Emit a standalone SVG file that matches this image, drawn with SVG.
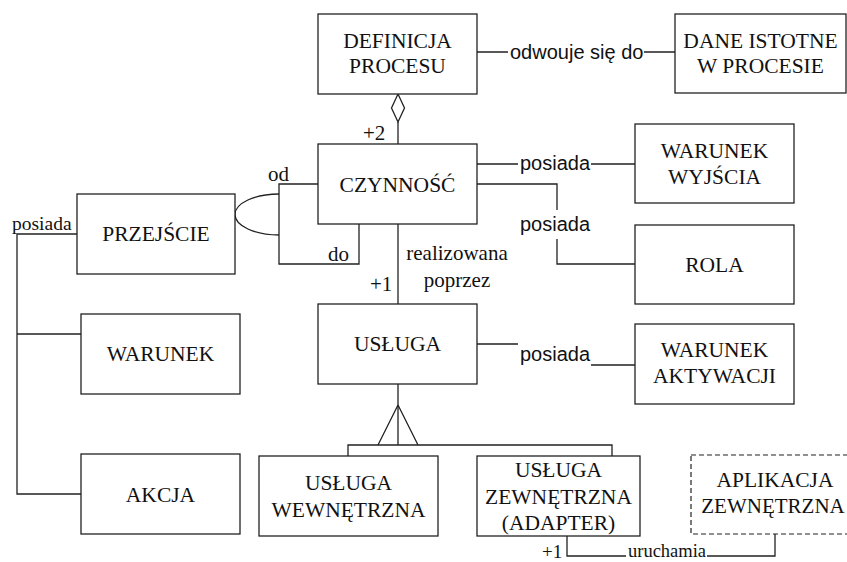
<svg xmlns="http://www.w3.org/2000/svg" width="847" height="562" viewBox="0 0 847 562">
<style>
.box{fill:#fff;stroke:#222;stroke-width:1.3}
.dash{fill:#fff;stroke:#222;stroke-width:1.2;stroke-dasharray:5,3}
.t{font-family:"Liberation Serif","Times New Roman",serif;font-size:21.5px;fill:#111;text-anchor:middle}
.l{font-family:"Liberation Serif","Times New Roman",serif;font-size:21px;fill:#111}
.s{font-family:"Liberation Sans",Arial,sans-serif;font-size:20px;fill:#111}
.c{fill:none;stroke:#222;stroke-width:1.3}
</style>
<rect width="847" height="562" fill="#fff"/>
<g id="connectors">
<path class="c" d="M477,52 H508 M644,52 H675"/>
<path class="c" d="M398,94 L404.5,108 L398,122 L391.5,108 Z"/>
<path class="c" d="M398,122 V144"/>
<path class="c" d="M477,164 H518 M591,164 H635"/>
<path class="c" d="M477,184 H557 V210 M557,239 V264 H635"/>
<path class="c" d="M318,184 H279 V264 H359 V224"/>
<path class="c" d="M279,194 A44,20.5 0 0 0 279,235"/>
<path class="c" d="M398,224 V304"/>
<path class="c" d="M477,344 H518 M591,365 H635"/>
<path class="c" d="M77,234 H17 V494 H81 M17,334 H81"/>
<path class="c" d="M398,384 V445 M348,456 V445 H612 V456"/>
<path class="c" d="M398,405 L418,445 M398,405 L378,445"/>
<path class="c" d="M567,536 V556 H626 M707,556 H775 V534"/>
<text class="s" x="510" y="59">odwouje się do</text>
<text class="l" x="363" y="140">+2</text>
<text class="s" x="520" y="170">posiada</text>
<text class="s" x="520" y="231">posiada</text>
<text class="s" x="520" y="361">posiada</text>
<text class="l" x="268" y="181">od</text>
<text class="l" x="328" y="261">do</text>
<text class="l" x="457" y="260" text-anchor="middle">realizowana</text>
<text class="l" x="457" y="287" text-anchor="middle">poprzez</text>
<text class="l" x="370" y="291">+1</text>
<text class="l" x="12" y="230" style="font-size:19.5px">posiada</text>
<text class="l" x="542" y="558" style="font-size:19px">+1</text>
<text class="l" x="628" y="557" style="font-size:18.5px">uruchamia</text>
</g>
<g id="definicja"><rect class="box" x="318" y="14" width="159" height="80"/><text class="t" x="397.5" y="48">DEFINICJA</text><text class="t" x="397.5" y="73">PROCESU</text></g>
<g id="dane"><rect class="box" x="675" y="14" width="171" height="79"/><text class="t" x="760.5" y="48">DANE ISTOTNE</text><text class="t" x="760.5" y="73">W PROCESIE</text></g>
<g id="czynnosc"><rect class="box" x="318" y="144" width="159" height="80"/><text class="t" x="397.5" y="192">CZYNNOŚĆ</text></g>
<g id="warunek-wyjscia"><rect class="box" x="635" y="124" width="159" height="79"/><text class="t" x="714.5" y="158">WARUNEK</text><text class="t" x="714.5" y="184">WYJŚCIA</text></g>
<g id="rola"><rect class="box" x="635" y="225" width="159" height="79"/><text class="t" x="714.5" y="272">ROLA</text></g>
<g id="przejscie"><rect class="box" x="77" y="194" width="158" height="80"/><text class="t" x="156" y="241">PRZEJŚCIE</text></g>
<g id="warunek"><rect class="box" x="81" y="314" width="159" height="80"/><text class="t" x="160.5" y="361">WARUNEK</text></g>
<g id="akcja"><rect class="box" x="81" y="454" width="159" height="80"/><text class="t" x="160.5" y="502">AKCJA</text></g>
<g id="usluga"><rect class="box" x="318" y="304" width="159" height="80"/><text class="t" x="397.5" y="351">USŁUGA</text></g>
<g id="warunek-aktywacji"><rect class="box" x="635" y="324" width="159" height="80"/><text class="t" x="714.5" y="357">WARUNEK</text><text class="t" x="714.5" y="383">AKTYWACJI</text></g>
<g id="usluga-wewnetrzna"><rect class="box" x="259" y="456" width="179" height="80"/><text class="t" x="348.5" y="490">USŁUGA</text><text class="t" x="348.5" y="517">WEWNĘTRZNA</text></g>
<g id="usluga-zewnetrzna"><rect class="box" x="477" y="456" width="163" height="80"/><text class="t" x="558.5" y="477">USŁUGA</text><text class="t" x="558.5" y="504">ZEWNĘTRZNA</text><text class="t" x="558.5" y="530">(ADAPTER)</text></g>
<g id="aplikacja"><rect class="dash" x="691" y="455" width="172" height="79"/><text class="t" x="775" y="487">APLIKACJA</text><text class="t" x="773" y="513" style="font-size:21px">ZEWNĘTRZNA</text></g>
</svg>
